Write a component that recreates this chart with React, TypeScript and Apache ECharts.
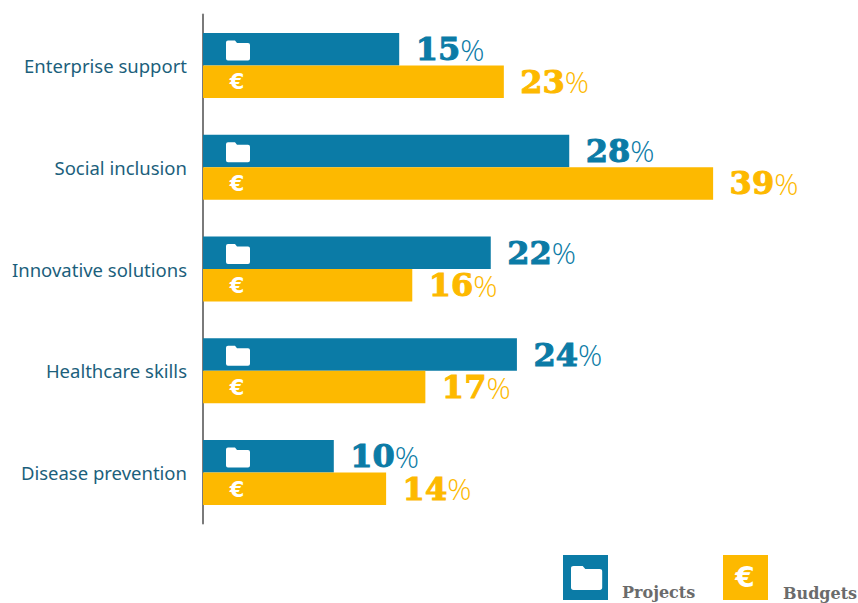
import React, { useEffect, useRef } from "react";
import * as echarts from "echarts";

const categories = ["Enterprise support", "Social inclusion", "Innovative solutions", "Healthcare skills", "Disease prevention"];
const projects = [15, 28, 22, 24, 10];
const budgets = [23, 39, 16, 17, 14];
const seriesNames = ["Projects", "Budgets"];

const BLUE = "#0b7ba6";
const YELLOW = "#fdb900";
const FOLDER = "M2 0L9 0L11 2.5L22 2.5Q24 2.5 24 4.5L24 18Q24 20 22 20L2 20Q0 20 0 18L0 2Q0 0 2 0Z";

echarts.graphic.registerShape("folderIcon", echarts.graphic.extendPath(FOLDER, {}) as any);

const labelFor = (color: string) => ({
  show: true,
  position: "right" as const,
  distance: 16.5,
  formatter: (p: any) => `{n|${p.value}}{p|%}`,
  rich: {
    n: { fontFamily: "DejaVu Serif", fontWeight: 900, fontSize: 32, lineHeight: 30, color, textBorderColor: color, textBorderWidth: 1 },
    p: { fontFamily: "Open Sans", fontWeight: 300, fontSize: 30, lineHeight: 30, color },
  },
});

export default function App() {
  const ref = useRef<HTMLDivElement>(null);
  useEffect(() => {
    const chart = echarts.init(ref.current!, undefined, { renderer: "svg" });
    chart.setOption({
      animation: false,
      backgroundColor: "#fff",
      grid: { left: 203, width: 654, top: 14.5, height: 509, containLabel: false },
      xAxis: { type: "value", min: 0, max: 50, show: false },
      yAxis: {
        type: "category",
        inverse: true,
        data: categories,
        axisTick: { show: false },
        axisLine: { lineStyle: { color: "#7a7a7a", width: 2 } },
        axisLabel: { margin: 16, fontFamily: "Noto Sans", fontSize: 18.5, color: "#1c5f7c", padding: [0, 0, 2, 0] },
      },
      series: [
        { type: "bar", name: seriesNames[0], data: projects, barWidth: 32.5, barGap: 0, itemStyle: { color: BLUE }, label: labelFor(BLUE) },
        { type: "bar", name: seriesNames[1], data: budgets, barWidth: 32.5, barGap: 0, itemStyle: { color: YELLOW }, label: labelFor(YELLOW) },
        {
          type: "custom",
          silent: true,
          data: categories.map((_, i) => [0, i]),
          encode: { x: 0, y: 1 },
          z: 5,
          renderItem: (_p: any, api: any) => {
            const [x, y] = api.coord([api.value(0), api.value(1)]);
            return {
              type: "group",
              children: [
                { type: "folderIcon", x: x + 23, y: y - 25, style: { fill: "#fff" } },
                {
                  type: "text", x: x + 34, y: y + 17,
                  style: { text: "€", fill: "#fff", fontFamily: "DejaVu Sans", fontWeight: "bold", fontSize: 21, align: "center", verticalAlign: "middle" },
                },
              ],
            };
          },
        },
      ],
      graphic: [
        { type: "rect", shape: { x: 563, y: 555, width: 45, height: 45 }, style: { fill: BLUE } },
        { type: "folderIcon", x: 571, y: 566, scaleX: 1.3, scaleY: 1.2, style: { fill: "#fff" } },
        { type: "text", x: 622, y: 592, style: { text: seriesNames[0], fill: "#6b6b6b", fontFamily: "DejaVu Serif", fontWeight: "bold", fontSize: 16, verticalAlign: "middle" } },
        { type: "rect", shape: { x: 723, y: 555, width: 45, height: 45 }, style: { fill: YELLOW } },
        { type: "text", x: 745, y: 577, style: { text: "€", fill: "#fff", fontFamily: "DejaVu Sans", fontWeight: "bold", fontSize: 28, align: "center", verticalAlign: "middle" } },
        { type: "text", x: 783, y: 593, style: { text: seriesNames[1], fill: "#6b6b6b", fontFamily: "DejaVu Serif", fontWeight: "bold", fontSize: 16, verticalAlign: "middle" } },
      ],
    });
    return () => chart.dispose();
  }, []);
  return <div ref={ref} style={{ position: "fixed", left: 0, top: 0, width: 858, height: 603 }} />;
}
